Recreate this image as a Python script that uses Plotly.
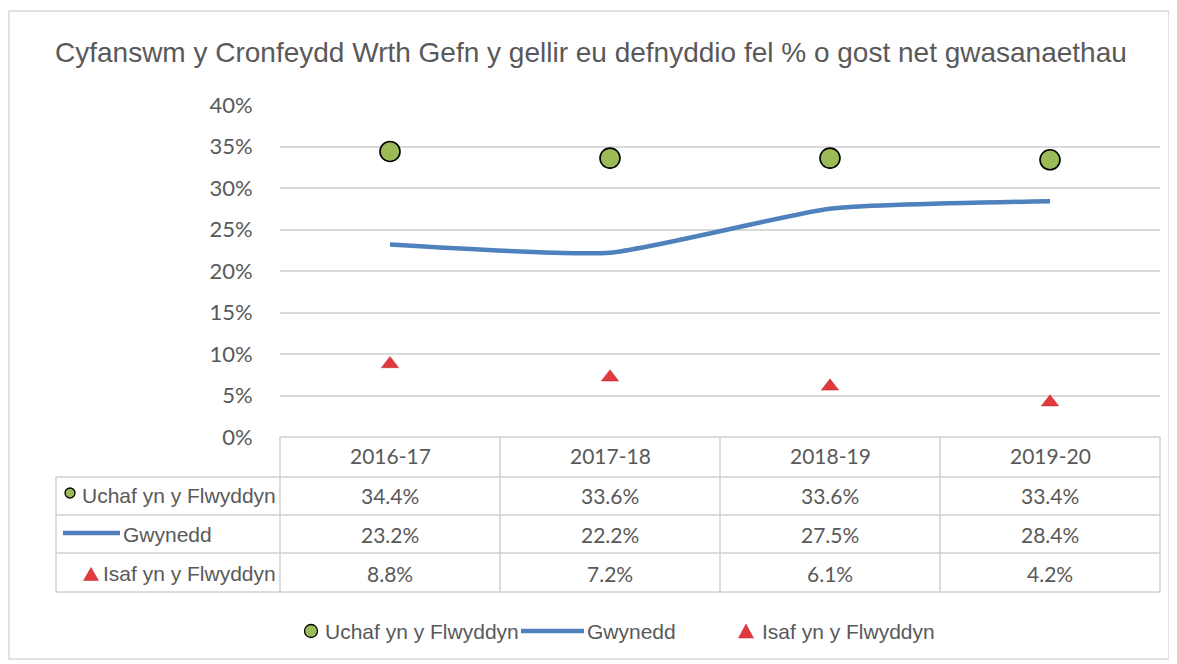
import plotly.graph_objects as go

W, H = 1177, 664
OFF = 8  # page body margin offset
def px(x): return (x - OFF) / W
def py(y): return 1 - (y - OFF) / H

years = ["2016-17", "2017-18", "2018-19", "2019-20"]
uchaf = [0.344, 0.336, 0.336, 0.334]
gwynedd = [0.232, 0.222, 0.275, 0.284]
isaf = [0.088, 0.072, 0.061, 0.042]
names = ["Uchaf yn y Flwyddyn", "Gwynedd", "Isaf yn y Flwyddyn"]
title = "Cyfanswm y Cronfeydd Wrth Gefn y gellir eu defnyddio fel % o gost net gwasanaethau"
yticks = [0, 0.05, 0.10, 0.15, 0.20, 0.25, 0.30, 0.35, 0.40]

GREEN = "#9BBB59"
BLUE = "#4F81BD"
RED = "#E0393E"
GRID = "#D9D9D9"
TXT = "#595959"
NUMFAM = "Lato, Carlito, sans-serif"
ARIAL = "Liberation Sans, Arial"

fig = go.Figure()
fig.add_trace(go.Scatter(x=years, y=uchaf, name=names[0], mode="markers",
                         marker=dict(symbol="circle", size=20, color=GREEN,
                                     line=dict(color="black", width=1.6))))
fig.add_trace(go.Scatter(x=years, y=gwynedd, name=names[1], mode="lines",
                         line=dict(color=BLUE, width=4.5, shape="spline", smoothing=0.5)))
fig.add_trace(go.Scatter(x=years, y=isaf, name=names[2], mode="markers",
                         marker=dict(symbol="triangle-up", size=15, color=RED,
                                     line=dict(color="#C0282D", width=0.5))))

x0, x1 = 280, 1160
ytop, ybot = 105, 437
fig.update_layout(
    width=W, height=H, margin=dict(l=0, r=0, t=0, b=0, autoexpand=False),
    paper_bgcolor="white", plot_bgcolor="white",
    font=dict(family=ARIAL, color=TXT),
    title=dict(text=title, x=px(55), xanchor="left", y=py(52), yanchor="middle",
               font=dict(size=28, color="#595959", family=ARIAL)),
    xaxis=dict(domain=[px(x0), px(x1)], range=[-0.5, 3.5], showticklabels=False,
               showgrid=False, zeroline=False, showline=False, fixedrange=True),
    yaxis=dict(domain=[py(ybot), py(ytop)], range=[0, 0.40], tickvals=yticks,
               tickformat=".0%", gridcolor=GRID, gridwidth=1.5, zeroline=False,
               showline=False, tickfont=dict(size=22, color=TXT, family=NUMFAM),
               ticks="outside", ticklen=22, tickcolor="rgba(0,0,0,0)", fixedrange=True),
    showlegend=False,
)

shapes = []
# outer border
shapes.append(dict(type="rect", xref="paper", yref="paper", x0=px(9), x1=px(1169),
                   y0=py(659), y1=py(11), line=dict(color=GRID, width=1.5)))
# table
cols = [280, 500, 720, 940, 1160]
rows = [437, 477, 515, 553, 592]
left = 56
TL = dict(color="#D0D0D0", width=1.5)
shapes.append(dict(type="line", xref="paper", yref="paper", x0=px(280), x1=px(1160),
                   y0=py(437), y1=py(437), line=TL))
for r in rows[1:]:
    shapes.append(dict(type="line", xref="paper", yref="paper", x0=px(left), x1=px(1160),
                       y0=py(r), y1=py(r), line=TL))
for c in cols:
    shapes.append(dict(type="line", xref="paper", yref="paper", x0=px(c), x1=px(c),
                       y0=py(437), y1=py(592), line=TL))
shapes.append(dict(type="line", xref="paper", yref="paper", x0=px(left), x1=px(left),
                   y0=py(477), y1=py(592), line=TL))

def circle(cx, cy, d):
    return dict(type="circle", xref="paper", yref="paper", x0=px(cx - d / 2), x1=px(cx + d / 2),
                y0=py(cy + d / 2), y1=py(cy - d / 2), fillcolor=GREEN,
                line=dict(color="black", width=1.3))

def tri(cx, cy, w, h):
    return dict(type="path", xref="paper", yref="paper",
                path=f"M {px(cx - w/2)} {py(cy + h/2)} L {px(cx + w/2)} {py(cy + h/2)} "
                     f"L {px(cx)} {py(cy - h/2)} Z",
                fillcolor=RED, line=dict(color="#C0282D", width=0.5))

def hline(xa, xb, y):
    return dict(type="line", xref="paper", yref="paper", x0=px(xa), x1=px(xb),
                y0=py(y), y1=py(y), line=dict(color=BLUE, width=4.5))

# table legend keys
shapes.append(circle(70, 493, 10))
shapes.append(hline(63, 120, 533))
shapes.append(tri(91, 574, 15, 13))
# bottom legend keys
shapes.append(circle(311, 631, 13))
shapes.append(hline(521, 584, 631))
shapes.append(tri(746, 631, 15, 14))
fig.update_layout(shapes=shapes)

ann = []
centers = [(cols[i] + cols[i + 1]) / 2 for i in range(4)]
NUMF = dict(family=NUMFAM, size=21, color=TXT)
for i, yr in enumerate(years):
    ann.append(dict(x=px(centers[i]), y=py(456), xref="paper", yref="paper", text=yr,
                    showarrow=False, font=NUMF, xanchor="center", yanchor="middle"))
series = [uchaf, gwynedd, isaf]
rowc = [495, 534, 573]
for j, s in enumerate(series):
    for i, v in enumerate(s):
        ann.append(dict(x=px(centers[i]), y=py(rowc[j]), xref="paper", yref="paper",
                        text=f"{v*100:.1f}%", showarrow=False, font=NUMF,
                        xanchor="center", yanchor="middle"))
LBLF = dict(family=ARIAL, size=21, color=TXT)
ann.append(dict(x=px(278), y=py(rowc[0]), xref="paper", yref="paper", text=names[0],
                showarrow=False, font=LBLF, xanchor="right", yanchor="middle"))
ann.append(dict(x=px(121), y=py(rowc[1]), xref="paper", yref="paper", text=names[1],
                showarrow=False, font=LBLF, xanchor="left", yanchor="middle"))
ann.append(dict(x=px(278), y=py(rowc[2]), xref="paper", yref="paper", text=names[2],
                showarrow=False, font=LBLF, xanchor="right", yanchor="middle"))
# bottom legend texts
LEGF = dict(family=ARIAL, size=21, color=TXT)
for xx, nm in zip([323, 585, 760], names):
    ann.append(dict(x=px(xx), y=py(631), xref="paper", yref="paper", text=nm,
                    showarrow=False, font=LEGF, xanchor="left", yanchor="middle"))
fig.update_layout(annotations=ann)

fig.write_html("out.html")
